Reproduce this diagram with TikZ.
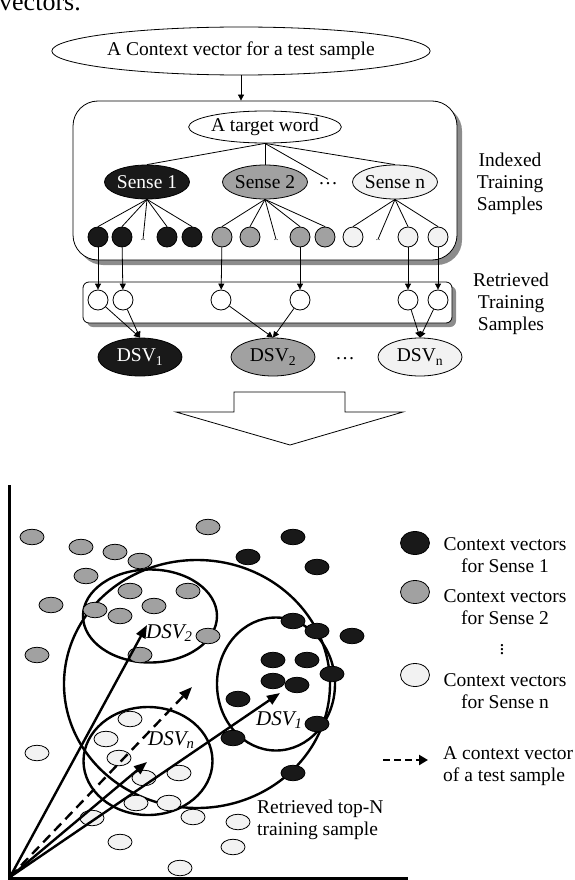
\documentclass[tikz,border=0pt]{standalone}
\usepackage{fontspec}
\setmainfont{Liberation Serif}
\usepackage{tikz}
\usetikzlibrary{shapes.geometric,arrows.meta,shadows}

\definecolor{senseA}{gray}{0.1}
\definecolor{senseB}{gray}{0.63}
\definecolor{senseN}{gray}{0.95}
\newcommand{\bodyfont}{\fontsize{19.5}{22}\selectfont}

\tikzset{
  oval/.style={draw, ellipse, inner sep=0pt, line width=0.8pt},
  panel/.style={draw, fill=white, line width=0.8pt},
  leaf/.style={draw, circle, minimum size=20pt, inner sep=0pt, line width=0.8pt},
  gap/.style={inner sep=0pt, font=\fontsize{9}{10}\selectfont},
  link/.style={line width=0.8pt, -{Triangle[length=6pt,width=6pt]}},
  twig/.style={line width=0.8pt},
  ring/.style={draw, ellipse, line width=2.4pt, inner sep=0pt},
  pt/.style={draw, ellipse, minimum width=24pt, minimum height=15.5pt, inner sep=0pt, line width=0.8pt},
  vec/.style={line width=2.4pt, -{Triangle[length=13pt,width=10pt]}},
}

\begin{document}
\begin{tikzpicture}[x=1pt, y=-1pt, font=\bodyfont]
    \useasboundingbox (0,0) rectangle (574,880);

    % Text of the page above
    \node[anchor=base west, inner sep=0pt, font=\fontsize{26}{30}\selectfont] (head) at (-1,11) {vectors.};

    % Nodes
    \node[oval, minimum width=286pt, minimum height=48pt] (query) at (241,51) {A Context vector for a test sample};
    \node[panel, rounded corners=25pt, minimum width=384pt, minimum height=159pt,
          drop shadow={shadow xshift=5pt, shadow yshift=-5pt, fill=black!45, opacity=1}] (indexed) at (265,180.5) {};
    \node[oval, minimum width=140pt, minimum height=32pt] (word) at (265,127) {A target word};
    \node[oval, fill=senseA, text=white, minimum width=70pt, minimum height=34pt] (sense1) at (147,182) {Sense 1};
    \node[oval, fill=senseB, minimum width=68pt, minimum height=34pt] (sense2) at (265,182) {Sense 2};
    \node (sdots) at (328,184) {\ldots};
    \node[oval, fill=senseN, minimum width=72pt, minimum height=34pt] (sensen) at (395,182) {Sense n};

    \foreach \n/\x in {1/98,2/122,3/167,4/192} \node[leaf, fill=senseA] (a\n) at (\x,237) {};
    \foreach \n/\x in {1/222,2/250,3/300,4/325} \node[leaf, fill=senseB] (b\n) at (\x,237) {};
    \foreach \n/\x in {1/353,2/408,3/438} \node[leaf, fill=senseN] (c\n) at (\x,237) {};
    \node[gap] (adots) at (143,240) {..};
    \node[gap] (bdots) at (276,240) {..};
    \node[gap] (cdots) at (378,240) {..};

    \node[panel, rounded corners=6pt, minimum width=369pt, minimum height=41pt,
          drop shadow={shadow xshift=4pt, shadow yshift=-4pt, fill=black!45, opacity=1}] (retrieved) at (267.5,302.5) {};
    \foreach \n/\x in {1/98,2/123,3/221,4/300,5/408,6/438} \node[leaf, fill=white] (r\n) at (\x,300) {};

    \node[oval, fill=senseA, text=white, minimum width=84pt, minimum height=38pt] (dsv1) at (140,357) {DSV\textsubscript{1}};
    \node[oval, fill=senseB, minimum width=84pt, minimum height=38pt] (dsv2) at (273,357) {DSV\textsubscript{2}};
    \node (ddots) at (345,359) {\ldots};
    \node[oval, fill=senseN, minimum width=84pt, minimum height=38pt] (dsvn) at (420,357) {DSV\textsubscript{n}};

    \node[align=center] (idxlabel) at (510,184) {Indexed\\Training\\Samples};
    \node[align=center] (retlabel) at (511,304) {Retrieved\\Training\\Samples};

    % Edges
    \draw[link] (query) -- (indexed.north -| query);
    \foreach \s in {sense1, sense2, sdots, sensen} \draw[twig] (word.south) -- (\s.north);
    \foreach \t in {a1, a2, adots, a3, a4} \draw[twig] (sense1.south) -- (\t.north);
    \foreach \t in {b1, b2, bdots, b3, b4} \draw[twig] (sense2.south) -- (\t.north);
    \foreach \t in {c1, cdots, c2, c3} \draw[twig] (sensen.south) -- (\t.north);
    \foreach \f/\t in {a1/r1, a2/r2, b1/r3, b3/r4, c2/r5, c3/r6} \draw[link] (\f) -- (\t);
    \foreach \f/\t in {r1/dsv1, r2/dsv1, r3/dsv2, r4/dsv2, r5/dsvn, r6/dsvn} \draw[link] (\f) -- (\t.north);

    % Block arrow
    \draw[line width=0.8pt] (234,392) -- (345,392) -- (345,412) -- (403,412) -- (290,445)
        -- (176,412) -- (234,412) -- cycle;

    % Vector space
    \coordinate (origin) at (10,877);
    \draw[line width=3pt] (9,485) -- (9,878.5) -- (408,878.5);

    \node[ring, minimum width=266pt, minimum height=248pt] (topN) at (197,684) {};
    \node[ring, minimum width=134pt, minimum height=93pt] (ring2) at (150,616) {};
    \node[ring, minimum width=118pt, minimum height=133pt] (ring1) at (276,684) {};
    \node[ring, minimum width=129pt, minimum height=108pt] (ringn) at (148,761) {};

    \foreach \x/\y [count=\i] in {32/537, 81/547, 115/552, 208/527, 140/561, 86/576, 130/591, 188/591,
        51/605, 95/610, 120/616, 154/606, 208/636, 37/655, 140/655}
        \node[pt, fill=senseB] (g\i) at (\x,\y) {};
    \foreach \x/\y [count=\i] in {293/537, 248/557, 317/567, 293/621, 317/631, 352/636, 273/660, 307/660,
        332/674, 273/681, 297/685, 238/699, 317/724, 233/738, 293/773}
        \node[pt, fill=senseA] (k\i) at (\x,\y) {};
    \foreach \x/\y [count=\i] in {130/719, 106/739, 119/758, 37/753, 144/778, 179/773, 136/803, 169/803,
        92/818, 193/817, 238/822, 120/842, 233/847, 180/868}
        \node[pt, fill=senseN] (w\i) at (\x,\y) {};

    \coordinate (tip2) at (147,625);
    \coordinate (tipn) at (147,762);
    \coordinate (tip1) at (280,693);
    \coordinate (tipq) at (192,687);
    \draw[vec] (origin) -- (tip2);
    \draw[vec] (origin) -- (tipn);
    \draw[vec] (origin) -- (tip1);
    \draw[vec, dash pattern=on 10pt off 6pt] (origin) -- (tipq);

    \node[anchor=west, inner sep=0pt, font=\fontsize{21}{24}\selectfont\itshape] (lab2) at (146,633) {DSV\textsubscript{2}};
    \node[anchor=west, inner sep=0pt, font=\fontsize{21}{24}\selectfont\itshape] (lab1) at (256,720) {DSV\textsubscript{1}};
    \node[anchor=west, inner sep=0pt, font=\fontsize{21}{24}\selectfont\itshape] (labn) at (148,740) {DSV\textsubscript{n}};
    \node[anchor=west, align=left, inner sep=0pt] (toplabel) at (257,820) {Retrieved top-N\\training sample};

    % Legend
    \node[pt, fill=senseA, minimum width=29pt, minimum height=23pt] (key1) at (415,543) {};
    \node[pt, fill=senseB, minimum width=29pt, minimum height=23pt] (key2) at (415,592) {};
    \node[pt, fill=senseN, minimum width=29pt, minimum height=23pt] (keyn) at (415,675) {};
    \node[align=center] (text1) at (505,555) {Context vectors\\for Sense 1};
    \node[align=center] (text2) at (505,607) {Context vectors\\for Sense 2};
    \node (kdots) at (502,647) {$\vdots$};
    \node[align=center] (textn) at (505,691) {Context vectors\\for Sense n};
    \coordinate (keyq) at (383,760);
    \coordinate (keyqtip) at (428,760);
    \draw[line width=2.4pt, dash pattern=on 7pt off 4pt, -{Triangle[length=9pt,width=10pt]}] (keyq) -- (keyqtip);
    \node[anchor=west, align=left, inner sep=0pt] (textq) at (443,766) {A context vector\\of a test sample};
\end{tikzpicture}
\end{document}
